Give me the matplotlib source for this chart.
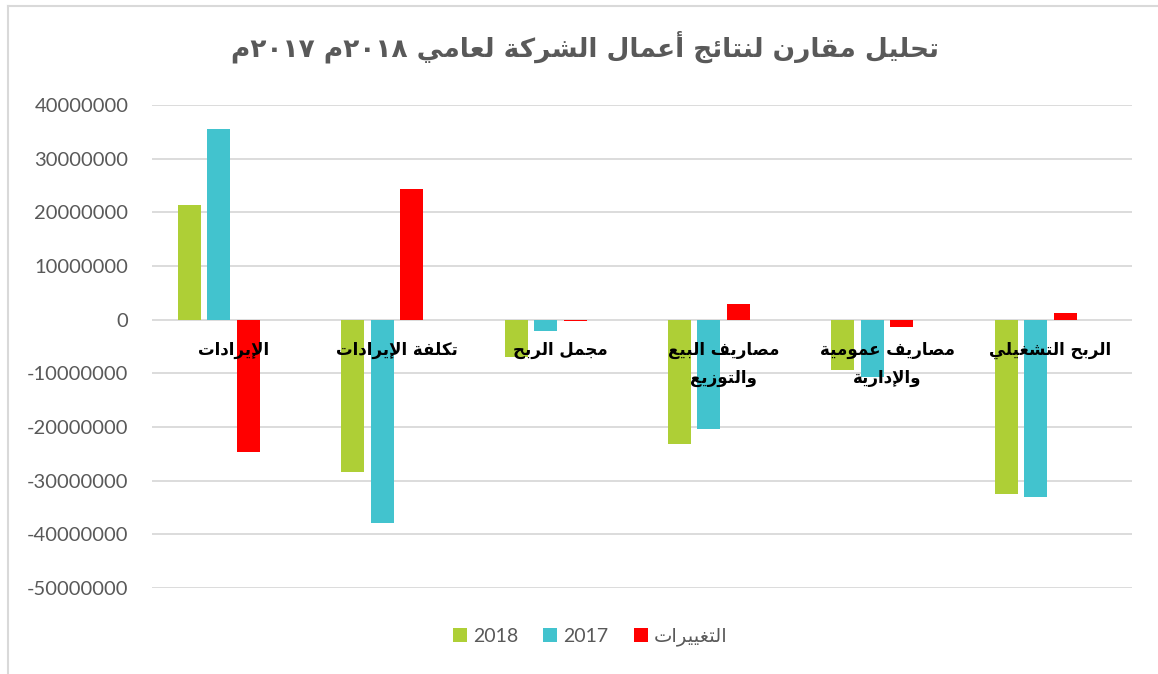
import re
import matplotlib
matplotlib.use("Agg")
import matplotlib.pyplot as plt
from matplotlib.patches import Patch
from matplotlib.lines import Line2D
from matplotlib.ticker import FuncFormatter

# data
categories = ['الإيرادات', 'تكلفة الإيرادات', 'مجمل الربح',
              'مصاريف البيع\nوالتوزيع', 'مصاريف عمومية\nوالإدارية', 'الربح التشغيلي']
series_names = ['2018', '2017', 'التغييرات']
values_2018 = [21400000, -28400000, -6900000, -23100000, -9300000, -32400000]
values_2017 = [35500000, -37800000, -2200000, -20300000, -10600000, -33100000]
values_change = [-24600000, 24400000, -200000, 3000000, -1300000, 1300000]
yticks = list(range(-50000000, 40000001, 10000000))
title = 'تحليل مقارن لنتائج أعمال الشركة لعامي ٢٠١٨م ٢٠١٧م'

colors = ['#AECF36', '#42C3CE', '#FF0000']

# --- tiny arabic shaper: matplotlib does no joining / bidi on its own ---
# base letters in the order of the Presentation Forms-B block, with number of forms
_base = 'ءآأؤإئابةتثجحخدذرزسشصضطظعغفقكلمنهوىي'
_counts = [1, 2, 2, 2, 2, 4, 2, 4, 2, 4, 4, 4, 4, 4, 2, 2, 2, 2, 4, 4, 4, 4, 4, 4,
           4, 4, 4, 4, 4, 4, 4, 4, 4, 2, 2, 4]
LETTERS = {}
cp = 0xFE80
for ch, n in zip(_base, _counts):
    LETTERS[ch] = (cp, n)
    cp += n
LAMALEF = {'آ': 0xFEF5, 'أ': 0xFEF7, 'إ': 0xFEF9, 'ا': 0xFEFB}


def shape(s):
    out = []
    i = 0
    prev_joins = False
    while i < len(s):
        c = s[i]
        if c not in LETTERS:
            out.append(c)
            prev_joins = False
            i += 1
            continue
        start, n = LETTERS[c]
        if c == 'ل' and i + 1 < len(s) and s[i + 1] in LAMALEF:
            out.append(chr(LAMALEF[s[i + 1]] + (1 if prev_joins else 0)))
            prev_joins = False
            i += 2
            continue
        nxt = s[i + 1] if i + 1 < len(s) else ''
        to_next = n == 4 and nxt in LETTERS and LETTERS[nxt][1] > 1
        to_prev = prev_joins and n > 1
        if n == 1:
            form = 0
        elif to_prev and to_next:
            form = 3
        elif to_next:
            form = 2
        elif to_prev:
            form = 1
        else:
            form = 0
        out.append(chr(start + form))
        prev_joins = n == 4
        i += 1
    return ''.join(out)


def ar(s):
    lines = []
    for line in s.split('\n'):
        tokens = re.findall(r'[0-9\u0660-\u0669]+|.', shape(line))
        lines.append(''.join(reversed(tokens)))
    return lines


plt.rcParams['font.family'] = ['Lato', 'DejaVu Sans']

px = 1 / 100
fig = plt.figure(figsize=(1158 * px, 674 * px), dpi=100)
fig.patch.set_facecolor('white')
ax = fig.add_axes([152 / 1158, 86 / 674, 980 / 1158, 483 / 674])

x = list(range(len(categories)))
slot = 29.5 / 163.5
width = 23 / 163.5
for k, (vals, col) in enumerate(zip([values_2018, values_2017, values_change], colors)):
    # excel left room for a 4th (empty) series, so groups sit left of centre
    ax.bar([xi + (k - 1.5) * slot for xi in x], vals, width=width, color=col, zorder=2)

ax.set_xlim(-0.5, len(categories) - 0.5)
ax.set_ylim(yticks[0], yticks[-1])
ax.set_yticks(yticks)
ax.yaxis.set_major_formatter(FuncFormatter(lambda v, p: f'{int(round(v))}'))
ax.set_xticks([])
ax.tick_params(axis='y', length=0, pad=17, labelsize=14.5, labelcolor='#595959')
ax.grid(axis='y', color='#D9D9D9', linewidth=1.3, zorder=0)
for sp in ax.spines.values():
    sp.set_visible(False)

# category names sit just under the zero line, on top of the bars
for xi, name in zip(x, categories):
    for j, line in enumerate(ar(name)):
        ax.annotate(line, xy=(xi, 0), xytext=(0, -30 - 28 * j), textcoords='offset pixels',
                    ha='center', va='center', fontsize=12, fontweight='bold',
                    family='DejaVu Sans', color='black', zorder=5)

fig.text(585 / 1158, 1 - 47 / 674, ar(title)[0], ha='center', va='center',
         fontsize=19, fontweight='bold', family='DejaVu Sans', color='#595959')

handles = [Patch(facecolor=c, edgecolor='none') for c in colors]
labels = [series_names[0], series_names[1], ar(series_names[2])[0]]
leg = fig.legend(handles, labels, loc='center', bbox_to_anchor=(590 / 1158, 1 - 637 / 674),
                 ncol=3, frameon=False, fontsize=14, handlelength=0.72, handleheight=0.72,
                 handletextpad=0.3, columnspacing=1.3)
for t in leg.get_texts():
    t.set_color('#595959')

# chart border (only left and top edges are in the crop)
fig.add_artist(Line2D([8 / 1158, 8 / 1158], [0, 1 - 6 / 674], color='#D9D9D9', lw=1.5))
fig.add_artist(Line2D([8 / 1158, 1], [1 - 6 / 674, 1 - 6 / 674], color='#D9D9D9', lw=1.5))

fig.savefig('out.png', dpi=100)
